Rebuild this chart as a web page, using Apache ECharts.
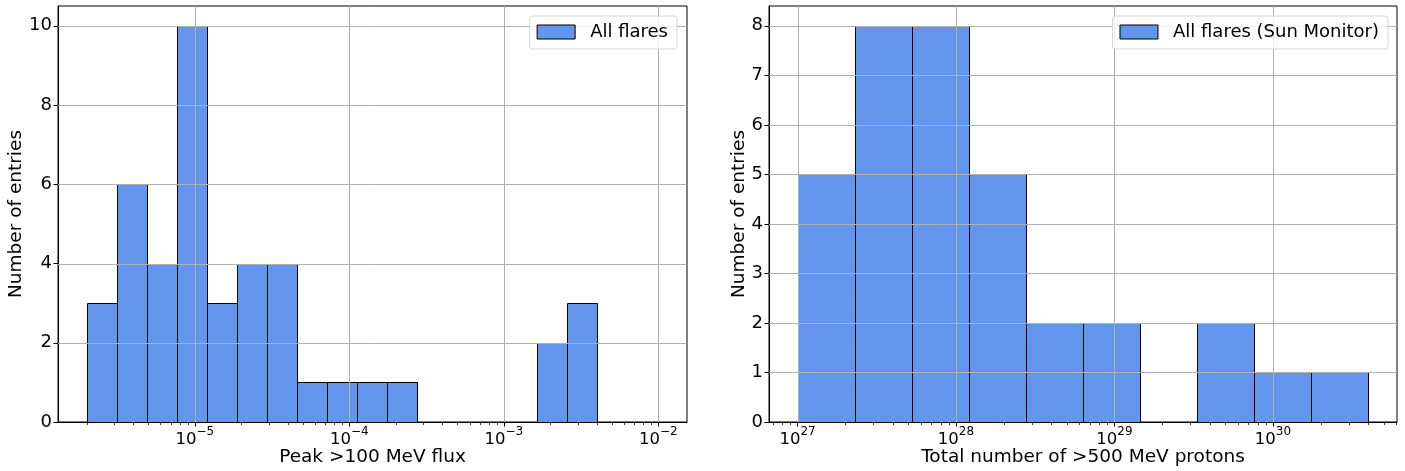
<!DOCTYPE html>
<html><head><meta charset="utf-8">
<script src="https://cdn.jsdelivr.net/npm/echarts@6/dist/echarts.min.js"></script>
<style>html,body{margin:0;padding:0;background:#fff}#c{width:1405px;height:471px}</style>
</head><body><div id="c"></div>
<script>
// ---- data (bin edges in log10 units, counts per bin) ----
const leftEdgesLog = [-5.6990,-5.5048,-5.3106,-5.1164,-4.9223,-4.7281,-4.5339,-4.3397,-4.1456,-3.9514,-3.7572,-3.5631,-3.3689,-3.1747,-2.9805,-2.7864,-2.5922,-2.3979];
const leftCounts   = [3,6,4,10,3,4,4,1,1,1,1,0,0,0,0,2,3];
const rightEdgesLog = [27,27.3602,27.7204,28.0806,28.4408,28.8010,29.1612,29.5214,29.8816,30.2419,30.6021];
const rightCounts   = [5,8,8,5,2,2,0,2,1,1];
const leftXTicks  = [-5,-4,-3,-2];
const rightXTicks = [27,28,29,30];
const leftYTicks  = [0,2,4,6,8,10];
const rightYTicks = [0,1,2,3,4,5,6,7,8];
const minorMultipliers = [2,3,4,5,6,7,8,9];
const leftXRange = [-5.885,-1.815], rightXRange = [26.82,30.783];
const leftYMax = 10.5, rightYMax = 8.4;
const leftName = 'All flares', rightName = 'All flares (Sun Monitor)';
const leftXTitle = 'Peak >100 MeV flux', rightXTitle = 'Total number of >500 MeV protons';
const yTitle = 'Number of entries';

const BLUE = '#6495ED';
const FONT = 'DejaVu Sans';

function bins(edges, counts){
  const out=[];
  for(let i=0;i<counts.length;i++) if(counts[i]>0) out.push([edges[i],edges[i+1],counts[i]]);
  return out;
}
function minors(range){
  const out=[];
  for(let n=Math.floor(range[0])-1;n<=Math.ceil(range[1]);n++)
    for(const k of minorMultipliers){const v=n+Math.log10(k); if(v>range[0]&&v<range[1]) out.push(v);}
  return out;
}
const crisp = v => Math.round(v)+0.5;

function barSeries(name, idx, data){
  return {type:'custom', name, xAxisIndex:idx, yAxisIndex:idx, z:2, itemStyle:{color:BLUE},
    data, encode:{x:[0,1],y:2},
    renderItem:(p,api)=>{
      const a=api.coord([api.value(0),api.value(2)]), b=api.coord([api.value(1),0]);
      const x0=crisp(a[0]), x1=crisp(b[0]), y0=crisp(a[1]), y1=crisp(b[1]);
      return {type:'rect', shape:{x:x0,y:y0,width:x1-x0,height:y1-y0}, style:{fill:BLUE, stroke:'#000', lineWidth:1}};
    }};
}
function vGrid(idx, vals, ymax){
  return {type:'custom', xAxisIndex:idx, yAxisIndex:idx, z:3, silent:true, data:vals.map(v=>[v]),
    encode:{x:0},
    renderItem:(p,api)=>{
      const a=api.coord([api.value(0),0]), b=api.coord([api.value(0),ymax]);
      const x=crisp(a[0]);
      return {type:'line', shape:{x1:x,y1:a[1],x2:x,y2:b[1]}, style:{stroke:'#b0b0b0', lineWidth:1}};
    }};
}
function hGrid(idx, vals, xr){
  return {type:'custom', xAxisIndex:idx, yAxisIndex:idx, z:3, silent:true, data:vals.slice(1).map(v=>[xr[0],v]),
    encode:{y:1},
    renderItem:(p,api)=>{
      const a=api.coord([xr[0],api.value(1)]), b=api.coord([xr[1],api.value(1)]);
      const y=crisp(a[1]);
      return {type:'line', shape:{x1:a[0],y1:y,x2:b[0],y2:y}, style:{stroke:'#b0b0b0', lineWidth:1}};
    }};
}
function minorTicks(idx, vals){
  return {type:'custom', xAxisIndex:idx, yAxisIndex:idx, z:4, silent:true, clip:false, data:vals.map(v=>[v,0]),
    encode:{x:0},
    renderItem:(p,api)=>{
      const a=api.coord([api.value(0),0]);
      const x=crisp(a[0]);
      return {type:'line', shape:{x1:x,y1:a[1],x2:x,y2:a[1]+3}, style:{stroke:'#000', lineWidth:0.8}};
    }};
}
function xFmt(v){ const e=String(Math.round(v)).replace('-','\u2212'); return '{b|10}{s|'+e+'}'; }

function xAxis(idx, range, ticks, title){
  return {type:'value', gridIndex:idx, min:range[0], max:range[1],
    name:title, nameLocation:'middle', nameGap:26, nameMoveOverlap:false,
    nameTextStyle:{fontFamily:FONT,fontSize:18.5,color:'#000'},
    axisLine:{show:true,lineStyle:{color:'#000',width:1}},
    axisTick:{show:true,length:4.5,lineStyle:{color:'#000',width:1},customValues:ticks},
    splitLine:{show:false},
    axisLabel:{customValues:ticks, formatter:xFmt, margin:4, color:'#000',
      rich:{b:{fontFamily:FONT,fontSize:16.5,color:'#000',verticalAlign:'bottom',lineHeight:22},
            s:{fontFamily:FONT,fontSize:12,color:'#000',verticalAlign:'top',lineHeight:22}}}
  };
}
function yAxis(idx, max, ticks, gap){
  return {type:'value', gridIndex:idx, min:0, max:max,
    name:yTitle, nameLocation:'middle', nameGap:gap, nameMoveOverlap:false,
    nameTextStyle:{fontFamily:FONT,fontSize:18.5,color:'#000'},
    axisLine:{show:true,lineStyle:{color:'#000',width:1}},
    axisTick:{show:true,length:4.5,lineStyle:{color:'#000',width:1},customValues:ticks},
    splitLine:{show:false},
    axisLabel:{customValues:ticks, margin:6, fontFamily:FONT, fontSize:18, color:'#000'}
  };
}
function legend(name, right){
  return {right:right, top:16, orient:'horizontal', icon:'rect', itemWidth:38, itemHeight:14,
    backgroundColor:'rgba(255,255,255,0.8)', borderColor:'#d6d6d6', borderWidth:1, borderRadius:3,
    padding:[6,9,7,7], selectedMode:false,
    itemStyle:{color:BLUE,borderColor:'#000',borderWidth:1},
    textStyle:{fontFamily:FONT,fontSize:18,color:'#000',padding:[0,0,0,10],lineHeight:20},
    data:[{name:name}]};
}

const chart = echarts.init(document.getElementById('c'), null, {renderer:'canvas'});
chart.setOption({
  animation:false,
  grid:[
    {left:58, right:1405-687, top:6, bottom:49, show:true, borderColor:'#000', borderWidth:1, backgroundColor:'transparent', containLabel:false, outerBoundsMode:'none'},
    {left:769, right:8, top:6, bottom:49, show:true, borderColor:'#000', borderWidth:1, backgroundColor:'transparent', containLabel:false, outerBoundsMode:'none'}
  ],
  xAxis:[xAxis(0,leftXRange,leftXTicks,leftXTitle), xAxis(1,rightXRange,rightXTicks,rightXTitle)],
  yAxis:[yAxis(0,leftYMax,leftYTicks,32), yAxis(1,rightYMax,rightYTicks,20)],
  legend:[legend(leftName,1405-677), legend(rightName,1405-1388)],
  series:[
    barSeries(leftName,0,bins(leftEdgesLog,leftCounts)),
    vGrid(0,leftXTicks,leftYMax), hGrid(0,leftYTicks,leftXRange), minorTicks(0,minors(leftXRange)),
    barSeries(rightName,1,bins(rightEdgesLog,rightCounts)),
    vGrid(1,rightXTicks,rightYMax), hGrid(1,rightYTicks,rightXRange), minorTicks(1,minors(rightXRange))
  ]
});
</script></body></html>
